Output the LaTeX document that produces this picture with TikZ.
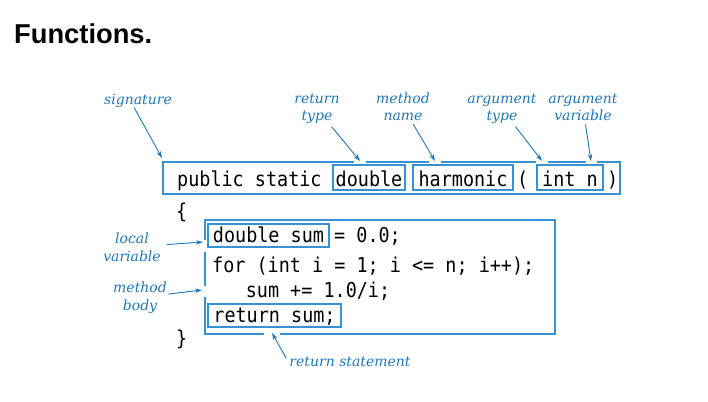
\documentclass[tikz,border=0pt]{standalone}
\usepackage{fontspec}
\newfontfamily\titlefont{Liberation Sans}
\newfontfamily\codefont{DejaVu Sans Mono}[FakeStretch=0.9]
\newfontfamily\lblfont{DejaVu Serif}
\usetikzlibrary{arrows.meta}
\definecolor{lblblue}{RGB}{30,120,190}
\definecolor{boxblue}{RGB}{55,145,210}
\begin{document}
\begin{tikzpicture}[x=1pt,y=-1pt,
 code/.style={font=\codefont\fontsize{20.5}{24}\selectfont, inner sep=0pt, anchor=base west},
 lbl/.style={font=\lblfont\itshape\fontsize{14}{17.5}\selectfont, text=lblblue, inner sep=0pt, align=center, anchor=base},
 tok/.style={draw=boxblue, line width=1.1pt, font=\codefont\fontsize{20.5}{24}\selectfont, inner xsep=2.5pt, inner ysep=2pt, anchor=base, text height=19pt, text depth=2pt},
 tokb/.style={tok, text height=16pt, text depth=3pt},
 outer/.style={draw=boxblue, line width=1.2pt, inner sep=0pt},
 arr/.style={draw=lblblue, line width=0.9pt, -{Stealth[length=7pt,width=4.5pt]}},
 gap/.style={draw=white, line width=3pt},
]
\useasboundingbox[fill=white] (0,0) rectangle (708,401);

% title
\node[font=\titlefont\bfseries\fontsize{27.3}{30}\selectfont, anchor=base west, inner sep=0pt] (title) at (14,44) {Functions.};

% signature line
\node[outer, minimum width=457pt, minimum height=32pt] (sig) at (391.5,178) {};
\node[code] (pub) at (177,186) {public static};
\node[tok, minimum width=72pt] (dbl) at (369,186) {double};
\node[tok, minimum width=100pt] (harm) at (463,186) {harmonic};
\node[code] (lp) at (517,186) {(};
\node[tok, minimum width=66pt] (intn) at (570,186) {int n};
\node[code] (rp) at (607,186) {)};

% body
\node[code] (lb) at (176,218) {\{};
\node[outer, minimum width=350pt, minimum height=114pt] (body) at (380,277) {};
\node[tokb, minimum width=121pt] (dsum) at (268.5,242) {double sum};
\node[code] (l1) at (334,242) {= 0.0;};
\node[code] (l2) at (212,272) {for (int i = 1; i <= n; i++);};
\node[code] (l3) at (245.6,297) {sum += 1.0/i;};
\node[tokb, minimum width=133pt] (ret) at (274.5,322) {return sum;};
\node[code] (rb) at (176,345) {\}};

% labels (base = last line)
\node[lbl] (lsig) at (138,104) {signature};
\node[lbl] (lrt) at (317,121) {return\\type};
\node[lbl] (lmn) at (403,121) {method\\name};
\node[lbl] (lat) at (502,121) {argument\\type};
\node[lbl] (lav) at (583,121) {argument\\variable};
\node[lbl] (llv) at (132,261) {local\\variable};
\node[lbl] (lmb) at (140,310) {method\\body};
\node[lbl] (lrs) at (350,366) {return statement};

% arrow tips
\coordinate (tsig) at (162,158);
\coordinate (trt) at (360,161);
\coordinate (tmn) at (435,161);
\coordinate (tat) at (542,161);
\coordinate (tav) at (591,161);
\coordinate (tlv) at (203,242);
\coordinate (tmb) at (202,290);
\coordinate (trs) at (272,333);

% gaps in the box edges
\draw[gap] (354,162) -- (366,162);
\draw[gap] (429,162) -- (441,162);
\draw[gap] (536,162) -- (548,162);
\draw[gap] (586,162) -- (597,162);
\draw[gap] (205,240) -- (205,252);
\draw[gap] (205,286) -- (205,297);
\draw[gap] (264,334) -- (280,334);

% arrows
\draw[arr] ([xshift=-4pt]lsig.south) -- (tsig);
\draw[arr, shorten <=3pt] (lrt) -- (trt);
\draw[arr, shorten <=3pt] (lmn) -- (tmn);
\draw[arr, shorten <=3pt] (lat) -- (tat);
\draw[arr, shorten <=3pt] (lav) -- (tav);
\draw[arr, shorten <=6pt] (llv) -- (tlv);
\draw[arr, shorten <=1pt] (lmb) -- (tmb);
\draw[arr] ([shift={(-3,-3)}]lrs.west) -- (trs);
\end{tikzpicture}
\end{document}
